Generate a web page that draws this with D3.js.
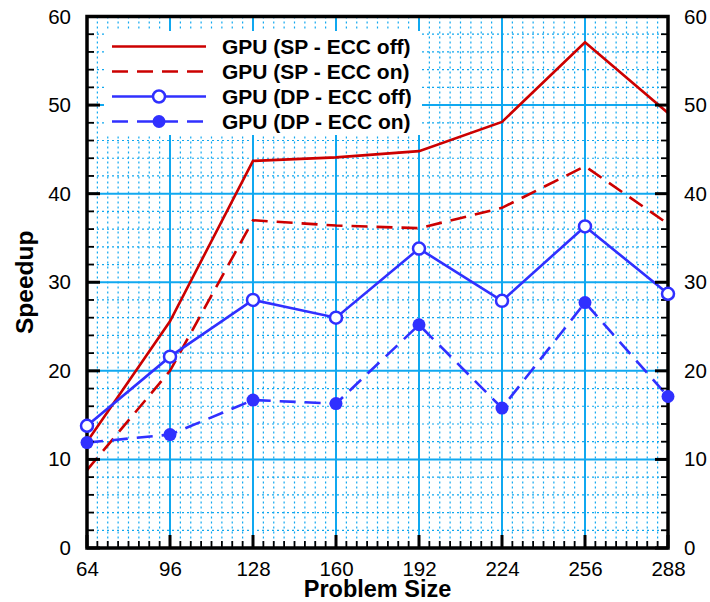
<!DOCTYPE html>
<html><head><meta charset="utf-8">
<script src="https://cdn.jsdelivr.net/npm/d3@7"></script>
<style>body{margin:0;background:#fff}svg{display:block}</style>
</head><body>
<svg id="c" width="710" height="602"></svg>
<script>
const problemSizes = [64, 96, 128, 160, 192, 224, 256, 288];
const spEccOff = [12.0, 25.6, 43.7, 44.1, 44.8, 48.1, 57.1, 49.1];
const spEccOn  = [8.8, 20.0, 37.0, 36.4, 36.1, 38.4, 43.1, 36.6];
const dpEccOff = [13.8, 21.6, 28.0, 26.0, 33.8, 27.9, 36.3, 28.7];
const dpEccOn  = [11.9, 12.8, 16.7, 16.3, 25.2, 15.8, 27.7, 17.1];
const xTicks = [64, 96, 128, 160, 192, 224, 256, 288];
const yTicks = [0, 10, 20, 30, 40, 50, 60];
const seriesNames = ["GPU (SP - ECC off)", "GPU (SP - ECC on)", "GPU (DP - ECC off)", "GPU (DP - ECC on)"];

const RED = "#cc0000", BLUE = "#3030ff", GRID = "#10a8f0";
const series = [
  {name: seriesNames[0], values: spEccOff, color: RED, dash: null, marker: null},
  {name: seriesNames[1], values: spEccOn, color: RED, dash: "16,9", marker: null},
  {name: seriesNames[2], values: dpEccOff, color: BLUE, dash: null, marker: "open"},
  {name: seriesNames[3], values: dpEccOn, color: BLUE, dash: "16,9", marker: "filled"}
];

const L = 87, R = 668, T = 16.5, B = 548;
const svg = d3.select("#c");
const x = d3.scaleLinear().domain([64, 288]).range([L, R]);
const y = d3.scaleLinear().domain([0, 60]).range([B, T]);
const font = "Liberation Sans, Arial, Helvetica, sans-serif";

// minor grid
const xMinor = d3.range(64, 288.1, 4).filter(v => (v - 64) % 32 !== 0);
const yMinor = d3.range(0, 60.1, 2).filter(v => v % 10 !== 0);
const g = svg.append("g");
g.selectAll(".vm").data(xMinor).join("line")
  .attr("x1", d => x(d)).attr("x2", d => x(d)).attr("y1", T).attr("y2", B)
  .attr("stroke", GRID).attr("stroke-width", 1.2).attr("stroke-dasharray", "2,3");
g.selectAll(".hm").data(yMinor).join("line")
  .attr("y1", d => y(d)).attr("y2", d => y(d)).attr("x1", L).attr("x2", R)
  .attr("stroke", GRID).attr("stroke-width", 1.2).attr("stroke-dasharray", "2,3");
// major grid
g.selectAll(".vM").data(xTicks).join("line")
  .attr("x1", d => x(d)).attr("x2", d => x(d)).attr("y1", T).attr("y2", B)
  .attr("stroke", GRID).attr("stroke-width", 2);
g.selectAll(".hM").data(yTicks).join("line")
  .attr("y1", d => y(d)).attr("y2", d => y(d)).attr("x1", L).attr("x2", R)
  .attr("stroke", GRID).attr("stroke-width", 2);

// data lines
svg.append("clipPath").attr("id", "pc").append("rect")
  .attr("x", L).attr("y", T).attr("width", R - L).attr("height", B - T);
const line = d3.line().x((d, i) => x(problemSizes[i])).y(d => y(d));
const dg = svg.append("g");
series.forEach(s => {
  dg.append("path").attr("d", line(s.values)).attr("fill", "none")
    .attr("stroke", s.color).attr("stroke-width", 2.6)
    .attr("stroke-dasharray", s.dash).attr("clip-path", "url(#pc)");
});

// axes labels
const ag = svg.append("g");
const xAxB = d3.axisBottom(x).tickValues(xTicks).tickSize(0).tickPadding(17).tickFormat(d3.format("d"));
const ax1 = ag.append("g").attr("transform", `translate(0,${B})`).call(xAxB);
const yAxL = d3.axisLeft(y).tickValues(yTicks).tickSize(0).tickPadding(16);
const ax2 = ag.append("g").attr("transform", `translate(${L},0)`).call(yAxL);
const yAxR = d3.axisRight(y).tickValues(yTicks).tickSize(0).tickPadding(16);
const ax3 = ag.append("g").attr("transform", `translate(${R},0)`).call(yAxR);
[ax1, ax2, ax3].forEach(a => {
  a.select(".domain").remove();
  a.selectAll("text").attr("font-family", font).attr("font-size", 20.5).attr("fill", "#000");
});
ax1.selectAll("text").attr("dy", "0.55em");

// inward ticks
const tk = svg.append("g").attr("stroke", "#000");
tk.selectAll(".bt").data(d3.range(64, 288.1, 4)).join("line")
  .attr("x1", d => x(d)).attr("x2", d => x(d)).attr("y1", B)
  .attr("y2", d => B - ((d - 64) % 32 === 0 ? 13 : 7))
  .attr("stroke-width", d => (d - 64) % 32 === 0 ? 3 : 1.8);
[L, R].forEach(xx => {
  const dir = xx === L ? 1 : -1;
  tk.selectAll(null).data(d3.range(0, 60.1, 2)).join("line")
    .attr("y1", d => y(d)).attr("y2", d => y(d)).attr("x1", xx)
    .attr("x2", d => xx + dir * (d % 10 === 0 ? 13 : 7))
    .attr("stroke-width", d => d % 10 === 0 ? 3 : 1.8);
});
svg.append("rect").attr("x", L).attr("y", T).attr("width", R - L).attr("height", B - T)
  .attr("fill", "none").attr("stroke", "#000").attr("stroke-width", 3.5);

// markers
series.forEach(s => {
  if (!s.marker) return;
  svg.append("g").selectAll("circle").data(s.values).join("circle")
    .attr("cx", (d, i) => x(problemSizes[i])).attr("cy", d => y(d))
    .attr("r", s.marker === "open" ? 6 : 6.5)
    .attr("fill", s.marker === "open" ? "#fff" : s.color)
    .attr("stroke", s.color).attr("stroke-width", s.marker === "open" ? 2.5 : 0);
});

// legend
const lg = svg.append("g");
lg.append("rect").attr("x", 104).attr("y", 31).attr("width", 318).attr("height", 104).attr("fill", "#fff");
series.forEach((s, i) => {
  const yy = 46.5 + i * 25;
  lg.append("line").attr("x1", 112).attr("x2", 206).attr("y1", yy).attr("y2", yy)
    .attr("stroke", s.color).attr("stroke-width", 2.6).attr("stroke-dasharray", s.dash);
  if (s.marker) {
    lg.append("circle").attr("cx", 159).attr("cy", yy).attr("r", s.marker === "open" ? 6 : 6.5)
      .attr("fill", s.marker === "open" ? "#fff" : s.color)
      .attr("stroke", s.color).attr("stroke-width", s.marker === "open" ? 2.5 : 0);
  }
  lg.append("text").attr("x", 222).attr("y", yy).attr("dy", "0.36em")
    .attr("font-family", font).attr("font-weight", "bold").attr("font-size", 21)
    .text(s.name);
});

// axis titles
svg.append("text").attr("x", (L + R) / 2).attr("y", 597).attr("text-anchor", "middle")
  .attr("font-family", font).attr("font-weight", "bold").attr("font-size", 23.5).text("Problem Size");
svg.append("text").attr("transform", `translate(33,${(T + B) / 2}) rotate(-90)`)
  .attr("text-anchor", "middle")
  .attr("font-family", font).attr("font-weight", "bold").attr("font-size", 24.5).text("Speedup");
</script>
</body></html>
